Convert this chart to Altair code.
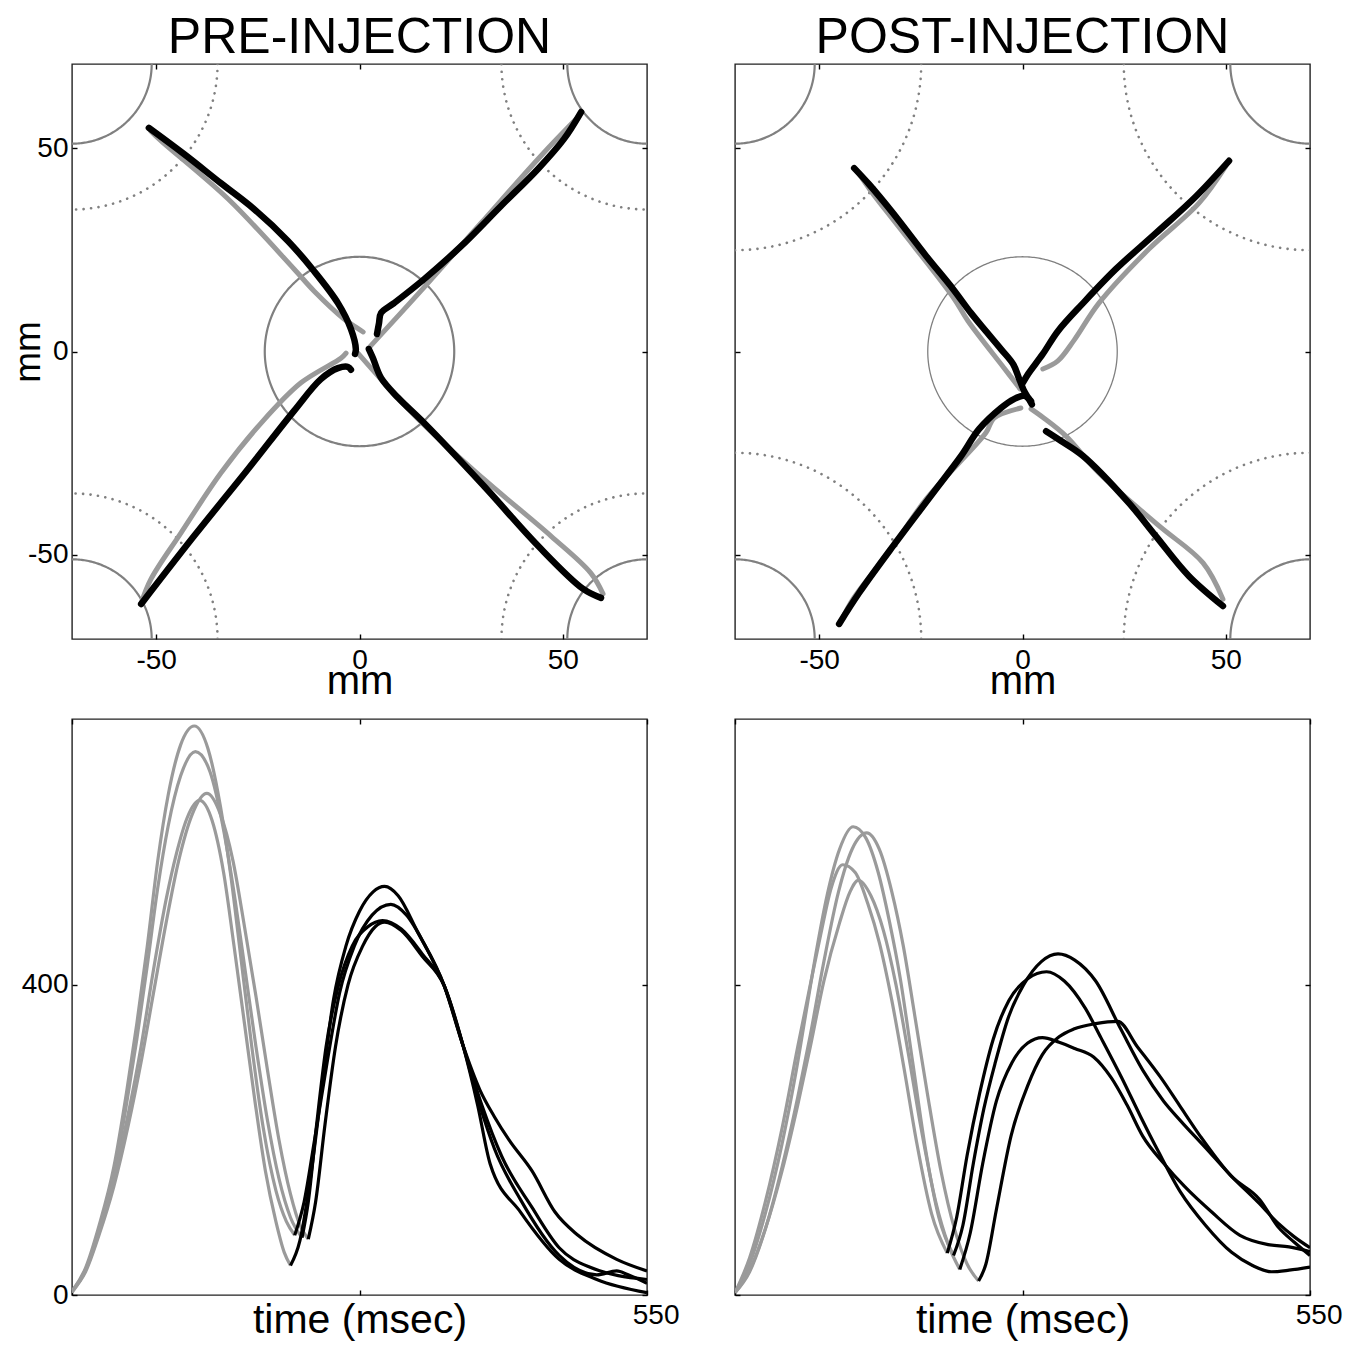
import altair as alt
import pandas as pd
import numpy as np

FONT = "Liberation Sans"
GRAY_TRAJ = "#9a9a9a"
GRAY_CIRC = "#808080"
TICK = 5

# ---------------- geometry of the workspace (mm) ----------------
LIM = 70.71
target_cx = [-70.71, 70.71, -70.71, 70.71]
target_cy = [70.71, 70.71, -70.71, -70.71]
target_r = 19.6
center_r = 23.3
dotted_r_pre = 35.8
dotted_r_post = 45.8

# ---------------- hand trajectories (x mm, y mm) ----------------
pre_gray_nw = [(0.9, 4.8), (-0.9, 6.0), (-3.8, 8.0), (-11.2, 14.9), (-16.1, 20.3), (-32.3, 37.5), (-48.8, 51.8), (-51.3, 54.2)]
pre_black_nw = [(-51.8, 55.0), (-43.2, 48.6), (-34.1, 41.4), (-25.9, 35.0), (-17.6, 27.2), (-11.2, 19.8), (-5.3, 11.9), (-2.1, 5.5), (-0.9, 0.6), (-1.1, -0.6)]
pre_gray_ne = [(2.3, 0.9), (15.1, 14.9), (29.9, 31.6), (44.6, 48.1), (54.0, 57.9)]
pre_black_ne = [(54.5, 58.9), (50.3, 52.3), (43.9, 44.9), (34.8, 35.8), (25.0, 25.9), (15.9, 17.8), (8.5, 11.9), (5.3, 9.5), (4.8, 7.0), (4.3, 4.3)]
pre_gray_sw = [(-3.3, -0.4), (-4.5, -1.6), (-14.4, -7.7), (-24.2, -17.6), (-34.1, -29.9), (-43.9, -44.6), (-51.3, -56.0), (-53.7, -61.9)]
pre_black_sw = [(-53.7, -62.1), (-40.7, -45.4), (-27.4, -28.9), (-16.1, -14.6), (-9.5, -6.8), (-5.3, -4.1), (-2.8, -3.8), (-2.1, -4.5)]
pre_gray_se = [(-0.4, -0.4), (14.4, -16.6), (30.6, -31.4), (47.1, -45.4), (56.9, -54.5), (59.9, -59.6)]
pre_black_se = [(2.3, 0.6), (3.3, -1.6), (5.3, -6.5), (9.5, -11.4), (15.9, -17.6), (30.6, -33.1), (43.9, -47.8), (55.0, -58.4), (59.4, -60.6)]

post_gray_nw = [(-0.6, -9.2), (-4.5, -4.1), (-13.4, 7.5), (-17.1, 13.4), (-30.4, 30.6), (-37.3, 39.5), (-40.7, 44.4)]
post_black_nw = [(-41.4, 45.1), (-37.8, 41.2), (-31.9, 34.1), (-23.7, 23.5), (-17.1, 15.4), (-12.7, 9.5), (-9.0, 5.0), (-5.3, 0.6), (-2.3, -3.1), (-0.9, -6.5), (0.4, -9.7), (1.6, -11.7), (2.3, -13.0)]
post_gray_ne = [(5.0, -4.3), (8.7, -2.3), (12.7, 2.8), (18.8, 11.9), (31.1, 25.2), (43.4, 36.5), (50.0, 45.6)]
post_black_ne = [(50.8, 46.9), (42.7, 38.2), (32.8, 29.1), (23.0, 20.3), (14.9, 11.9), (8.7, 5.0), (5.0, -0.6), (1.4, -5.5), (0.1, -7.7)]
post_gray_sw = [(-0.4, -13.9), (-7.0, -16.4), (-9.0, -20.0), (-23.7, -36.3), (-32.3, -48.6), (-41.7, -60.9), (-44.6, -66.3)]
post_black_sw = [(-45.1, -67.0), (-40.2, -59.4), (-31.8, -47.8), (-22.0, -34.8), (-15.1, -25.7), (-10.7, -19.1), (-5.3, -13.9), (-2.1, -11.7), (0.4, -10.9), (2.1, -12.2)]
post_gray_se = [(2.1, -14.1), (5.3, -16.4), (10.7, -20.8), (18.8, -29.9), (33.6, -42.9), (44.4, -52.0), (49.3, -60.9)]
post_black_se = [(5.8, -19.6), (9.5, -22.0), (14.9, -25.7), (26.2, -37.3), (32.8, -45.4), (40.9, -55.2), (49.3, -62.6)]

# ---------------- speed profiles (time msec, speed) ----------------
pre_speed_gray_1 = [(0, 5), (13, 35), (26, 90), (40, 165), (52, 260), (62, 350), (72, 450), (82, 560), (92, 645), (104, 710), (117, 734), (130, 705), (142, 630), (152, 540), (162, 430), (172, 320), (183, 215), (195, 135), (205, 95), (213, 77)]
pre_speed_gray_2 = [(0, 5), (13, 33), (26, 85), (40, 155), (52, 245), (62, 330), (72, 425), (82, 525), (92, 605), (104, 670), (118, 701), (132, 675), (145, 600), (156, 510), (166, 415), (176, 320), (187, 225), (198, 150), (209, 100), (220, 74)]
pre_speed_gray_3 = [(0, 5), (13, 30), (26, 78), (40, 140), (54, 220), (66, 300), (78, 390), (90, 480), (102, 560), (115, 620), (129, 647), (142, 620), (154, 560), (165, 475), (176, 385), (187, 290), (198, 200), (209, 130), (218, 90), (226, 72)]
pre_speed_gray_4 = [(0, 3), (13, 32), (26, 82), (40, 150), (54, 235), (66, 320), (78, 420), (90, 510), (100, 570), (110, 615), (122, 638), (134, 612), (145, 545), (155, 450), (165, 350), (175, 250), (185, 160), (195, 95), (203, 55), (209, 38)]
pre_speed_black_1 = [(209, 38), (218, 70), (228, 150), (238, 256), (250, 380), (262, 450), (275, 495), (288, 520), (299, 527), (312, 515), (330, 470), (356, 399), (374, 322), (390, 265), (404, 230), (418, 200), (440, 160), (462, 107), (484, 77), (521, 46), (550, 31)]
pre_speed_black_2 = [(213, 77), (222, 120), (232, 200), (244, 300), (256, 390), (270, 450), (287, 490), (305, 504), (320, 490), (338, 450), (356, 399), (374, 322), (392, 245), (411, 179), (440, 113), (466, 61), (495, 36), (550, 20)]
pre_speed_black_3 = [(220, 74), (226, 120), (234, 220), (243, 320), (255, 400), (268, 450), (283, 475), (297, 483), (315, 472), (335, 440), (356, 399), (374, 322), (390, 245), (404, 189), (429, 123), (466, 51), (502, 26), (521, 31), (532, 26), (550, 15)]
pre_speed_black_4 = [(226, 72), (233, 120), (242, 220), (252, 320), (264, 400), (278, 450), (290, 475), (299, 481), (315, 470), (335, 437), (356, 399), (374, 322), (388, 245), (400, 169), (429, 107), (466, 46), (502, 20), (550, 3)]

post_speed_gray_1 = [(0, 3), (14, 40), (29, 105), (45, 195), (58, 285), (68, 365), (78, 445), (88, 515), (100, 575), (113, 604), (125, 590), (137, 545), (148, 480), (158, 409), (170, 300), (182, 190), (195, 100), (209, 51)]
post_speed_gray_2 = [(0, 3), (14, 30), (29, 85), (45, 165), (60, 255), (72, 335), (85, 430), (99, 520), (112, 575), (126, 596), (138, 575), (150, 520), (161, 450), (172, 360), (184, 260), (197, 160), (210, 85), (222, 40), (233, 18)]
post_speed_gray_3 = [(0, 3), (14, 48), (29, 120), (45, 215), (60, 320), (72, 400), (82, 465), (92, 525), (103, 555), (115, 545), (127, 505), (138, 455), (150, 380), (162, 290), (174, 195), (188, 105), (203, 54)]
post_speed_gray_4 = [(0, 3), (14, 32), (29, 85), (45, 160), (60, 245), (72, 320), (85, 405), (100, 480), (110, 520), (118, 535), (130, 515), (142, 470), (154, 400), (166, 310), (178, 215), (192, 120), (204, 65), (215, 33)]
post_speed_black_1 = [(209, 51), (218, 90), (228, 170), (238, 240), (249, 300), (262, 360), (276, 400), (293, 430), (309, 440), (325, 432), (345, 405), (369, 343), (390, 290), (410, 250), (426, 225), (450, 190), (475, 153), (500, 120), (520, 92), (535, 75), (550, 61)]
post_speed_black_2 = [(203, 54), (212, 100), (222, 180), (234, 260), (247, 330), (262, 380), (280, 408), (298, 417), (315, 405), (335, 370), (350, 332), (370, 280), (388, 230), (405, 185), (426, 133), (450, 90), (475, 55), (495, 38), (513, 30), (530, 32), (550, 36)]
post_speed_black_3 = [(215, 33), (225, 80), (237, 170), (250, 250), (265, 300), (280, 325), (294, 332), (310, 326), (325, 318), (343, 307), (360, 280), (375, 245), (390, 205), (410, 170), (430, 140), (456, 107), (483, 77), (510, 65), (530, 62), (550, 56)]
post_speed_black_4 = [(233, 18), (240, 40), (250, 110), (264, 205), (280, 270), (294, 310), (310, 333), (324, 343), (345, 350), (366, 353), (385, 320), (407, 281), (425, 245), (445, 205), (475, 153), (502, 123), (520, 87), (535, 68), (550, 51)]

x_ticks_mm = [-50, 0, 50]
y_ticks_mm = [-50, 0, 50]
x_ticks_time = [0, 275, 550]
y_ticks_speed = [0, 400]
TIME_MAX = 550
SPEED_MAX = 743

W = 575
H_TOP = 575
H_BOT = 576


def paths_df(paths, xname, yname):
    rows = []
    for pid, pts in enumerate(paths):
        for i, (a, b) in enumerate(pts):
            rows.append({"pid": pid, "i": i, xname: a, yname: b})
    return pd.DataFrame(rows)


def circles_df(cxs, cys, rs, sws):
    rows = []
    ang = np.linspace(0, 2 * np.pi, 361)
    for c, (cx, cy, r, sw) in enumerate(zip(cxs, cys, rs, sws)):
        for k, a in enumerate(ang):
            rows.append({"cid": c, "k": k, "x": cx + r * np.cos(a), "y": cy + r * np.sin(a), "sw": sw})
    return pd.DataFrame(rows)


def mk_axis(orient, values, labels=True, title=None, label_expr=None, **kw):
    args = dict(orient=orient, values=values, domain=False, grid=False, ticks=True,
                tickSize=TICK, tickWidth=1.4, tickColor="black", offset=-TICK,
                labels=labels, labelFont=FONT, labelFontSize=28, labelColor="black",
                labelPadding=4, titleFont=FONT, titleFontSize=40, titleColor="black",
                titleFontWeight="normal", title=title)
    if label_expr:
        args["labelExpr"] = label_expr
    args.update(kw)
    return alt.Axis(**args)


NUM_LABEL = "'' + datum.value"


def traj_panel(gray_paths, black_paths, dotted_r, center_sw, title, show_y):
    xs = alt.Scale(domain=[-LIM, LIM], nice=False, zero=False)
    ys = alt.Scale(domain=[-LIM, LIM], nice=False, zero=False)
    solid = circles_df(target_cx + [0], target_cy + [0], [target_r] * 4 + [center_r], [2.2] * 4 + [center_sw])
    dotted = circles_df(target_cx, target_cy, [dotted_r] * 4, [2.6] * 4)

    x_bottom = mk_axis("bottom", x_ticks_mm, title="mm", label_expr=NUM_LABEL, labelPadding=7,
                       titleBaseline="alphabetic", titleY=59, titleX=W / 2)
    x_top = mk_axis("top", x_ticks_mm, labels=False)
    if show_y:
        y_left = mk_axis("left", y_ticks_mm, title="mm", label_expr=NUM_LABEL, titleFontSize=37,
                         titleBaseline="alphabetic", titleX=-37.5, titleY=H_TOP / 2, titleAngle=270)
    else:
        y_left = mk_axis("left", y_ticks_mm, labels=False)
    y_right = mk_axis("right", y_ticks_mm, labels=False)

    l_solid = alt.Chart(solid).mark_line(clip=True, color=GRAY_CIRC).encode(
        x=alt.X("x:Q", scale=xs, axis=x_bottom),
        y=alt.Y("y:Q", scale=ys, axis=y_left),
        detail="cid:N", order="k:Q",
        strokeWidth=alt.StrokeWidth("sw:Q", scale=None),
    )
    l_dot = alt.Chart(dotted).mark_line(clip=True, color=GRAY_CIRC, strokeDash=[0.1, 7.4], strokeCap="round", strokeWidth=2.6).encode(
        x=alt.X("x:Q", scale=xs, axis=None),
        y=alt.Y("y:Q", scale=ys, axis=None),
        detail="cid:N", order="k:Q",
    )
    l_gray = alt.Chart(paths_df(gray_paths, "x", "y")).mark_line(
        clip=True, color=GRAY_TRAJ, strokeWidth=5, strokeCap="round", strokeJoin="round", interpolate="catmull-rom"
    ).encode(
        x=alt.X("x:Q", scale=xs, axis=x_top),
        y=alt.Y("y:Q", scale=ys, axis=y_right),
        detail="pid:N", order="i:Q",
    )
    l_black = alt.Chart(paths_df(black_paths, "x", "y")).mark_line(
        clip=True, color="black", strokeWidth=6.5, strokeCap="round", strokeJoin="round", interpolate="catmull-rom"
    ).encode(
        x=alt.X("x:Q", scale=xs, axis=None),
        y=alt.Y("y:Q", scale=ys, axis=None),
        detail="pid:N", order="i:Q",
    )
    return alt.layer(l_solid, l_dot, l_gray, l_black).resolve_axis(
        x="independent", y="independent"
    ).properties(
        width=W, height=H_TOP,
        title=alt.TitleParams(title, font=FONT, fontSize=50, fontWeight="normal", color="black", anchor="middle", offset=0),
    )


def speed_panel(gray_curves, black_curves, show_y):
    xs = alt.Scale(domain=[0, TIME_MAX], nice=False, zero=False)
    ys = alt.Scale(domain=[0, SPEED_MAX], nice=False, zero=False)
    x_bottom = mk_axis("bottom", x_ticks_time, title="time (msec)",
                       label_expr="datum.value == 550 ? '550' : ''", labelPadding=6,
                       labelFlush=True, labelFlushOffset=32, titleFontSize=41,
                       titleBaseline="alphabetic", titleY=42, titleX=W / 2)
    x_top = mk_axis("top", x_ticks_time, labels=False)
    y_left = mk_axis("left", y_ticks_speed, labels=show_y, label_expr=NUM_LABEL)
    y_right = mk_axis("right", y_ticks_speed, labels=False)
    l_gray = alt.Chart(paths_df(gray_curves, "t", "v")).mark_line(
        clip=True, color=GRAY_TRAJ, strokeWidth=3.2, interpolate="monotone"
    ).encode(
        x=alt.X("t:Q", scale=xs, axis=x_bottom),
        y=alt.Y("v:Q", scale=ys, axis=y_left),
        detail="pid:N", order="i:Q",
    )
    l_black = alt.Chart(paths_df(black_curves, "t", "v")).mark_line(
        clip=True, color="black", strokeWidth=3.2, interpolate="monotone"
    ).encode(
        x=alt.X("t:Q", scale=xs, axis=x_top),
        y=alt.Y("v:Q", scale=ys, axis=y_right),
        detail="pid:N", order="i:Q",
    )
    return alt.layer(l_gray, l_black).resolve_axis(
        x="independent", y="independent"
    ).properties(width=W, height=H_BOT)


top_left = traj_panel([pre_gray_nw, pre_gray_ne, pre_gray_sw, pre_gray_se],
                      [pre_black_nw, pre_black_ne, pre_black_sw, pre_black_se],
                      dotted_r_pre, 2.2, "PRE-INJECTION", True)
top_right = traj_panel([post_gray_nw, post_gray_ne, post_gray_sw, post_gray_se],
                       [post_black_nw, post_black_ne, post_black_sw, post_black_se],
                       dotted_r_post, 1.3, "POST-INJECTION", False)
bot_left = speed_panel([pre_speed_gray_1, pre_speed_gray_2, pre_speed_gray_3, pre_speed_gray_4],
                       [pre_speed_black_1, pre_speed_black_2, pre_speed_black_3, pre_speed_black_4], True)
bot_right = speed_panel([post_speed_gray_1, post_speed_gray_2, post_speed_gray_3, post_speed_gray_4],
                        [post_speed_black_1, post_speed_black_2, post_speed_black_3, post_speed_black_4], False)

chart = alt.concat(
    top_left, top_right, bot_left, bot_right,
    columns=2, spacing={"row": 80, "column": 88}, bounds="flush",
).properties(
    padding={"left": 0, "top": 4, "right": 0, "bottom": 0}
).configure(
    background="white",
    view=alt.ViewConfig(stroke="#222222", strokeWidth=1.4),
)

chart.save("out.html", embed_options={"renderer": "svg", "actions": False})
